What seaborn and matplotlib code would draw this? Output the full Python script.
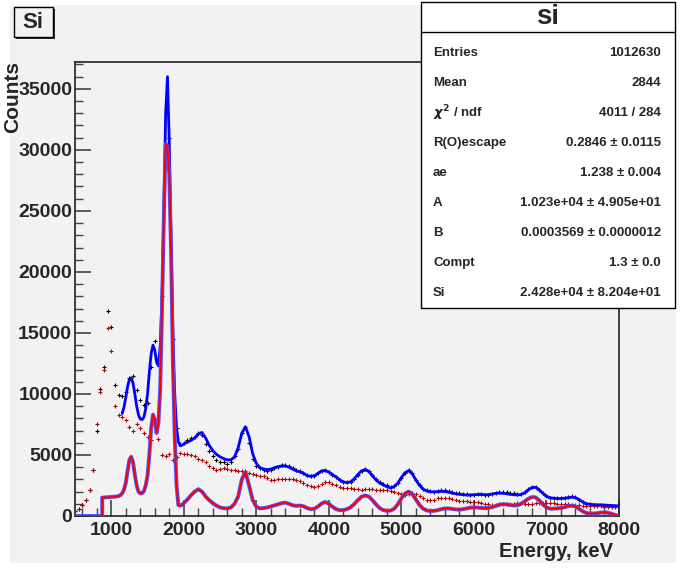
import numpy as np
import matplotlib
matplotlib.use("Agg")
import matplotlib.pyplot as plt
import seaborn as sns
from matplotlib.patches import Rectangle
from matplotlib.lines import Line2D

# energy grids, keV
pts_e = np.arange(500, 8001, 50)
blue_e = np.r_[np.arange(1150, 2000, 25), np.arange(2000, 8001, 50)]
comp_e = np.r_[500, 875, np.arange(875, 2000, 25), np.arange(2000, 8001, 50)]

# black data points (full spectrum)
black_pts = [400, 600, 900, 1300, 2100, 3800, 7000, 10400, 12200, 16800,
             15500, 10700, 9900, 9800, 10200, 11300, 11500, 10300, 9500, 9100,
             9300, 12200, 14300, 12900, 18000, 33000, 31000, 14500, 7200, 5900,
             6000, 6200, 6400, 6500, 6800, 6600, 5900, 5300, 4900, 4600,
             4450, 4400, 4300, 4400, 4900, 5500, 6800, 7300, 6000, 4700,
             4100, 3900, 3800, 3700, 3800, 3950, 4050, 4150, 4150, 4100,
             3900, 3800, 3700, 3550, 3350, 3250, 3300, 3500, 3700, 3750,
             3600, 3400, 3200, 2950, 2800, 2750, 2800, 3050, 3400, 3700,
             3850, 3700, 3350, 3000, 2750, 2600, 2500, 2400, 2450, 2700,
             3100, 3550, 3750, 3500, 2950, 2500, 2200, 2100, 2050, 2000,
             2050, 2100, 2100, 2050, 1950, 1900, 1850, 1800, 1800, 1750,
             1750, 1800, 1800, 1750, 1750, 1800, 1850, 1950, 2000, 1950,
             1900, 1850, 1800, 1800, 1950, 2200, 2400, 2400, 2150, 1850,
             1600, 1500, 1450, 1450, 1450, 1500, 1550, 1600, 1550, 1350,
             1150, 1000, 950, 900, 880, 870, 850, 850, 820, 800,
             780]

# red data points
red_pts = [400, 600, 900, 1300, 2100, 3800, 7500, 10200, 12000, 15400,
           13500, 9000, 8300, 8150, 7900, 7300, 7000, 7500, 7200, 6800,
           6500, 6200, 7400, 6300, 5000, 4900, 5100, 4600, 4800, 5200,
           5100, 5050, 5000, 4900, 4700, 4600, 4400, 4100, 3900, 3800,
           3850, 3900, 3850, 3800, 3800, 3700, 3650, 3650, 3550, 3450,
           3400, 3300, 3300, 3150, 2950, 2950, 3000, 3050, 3050, 3050,
           3000, 2950, 2850, 2700, 2550, 2450, 2400, 2450, 2650, 2800,
           2800, 2650, 2500, 2400, 2300, 2300, 2300, 2250, 2200, 2150,
           2200, 2250, 2200, 2150, 2150, 2100, 2100, 2050, 2000, 1900,
           1800, 1750, 1800, 1900, 1800, 1600, 1450, 1350, 1300, 1350,
           1450, 1500, 1500, 1500, 1400, 1300, 1250, 1200, 1200, 1150,
           1150, 1150, 1100, 1000, 950, 900, 900, 950, 1000, 1000,
           1000, 1000, 1050, 1050, 1000, 980, 1000, 1050, 1080, 1080,
           1060, 1050, 1040, 1020, 1000, 980, 960, 930, 900, 870,
           850, 830, 810, 800, 790, 780, 760, 740, 720, 710,
           700]

# total fit (blue)
blue_fit = [8400, 8900, 9700, 10600, 11200, 11300, 10900, 10000, 9000, 8300,
            7950, 7900, 8100, 8800, 10000, 11800, 13300, 14000, 13600, 12600,
            12300, 14000, 18000, 25000, 33000, 36000, 30500, 22500, 15000, 10000,
            7200, 6100, 5750, 5800,
            5900, 6050, 6200, 6400, 6700, 6850, 6400, 5800, 5350, 5050,
            4850, 4700, 4600, 4600, 4850, 5600, 6800, 7300, 6500, 5100,
            4300, 3950, 3850, 3800, 3850, 3950, 4050, 4100, 4100, 4000,
            3850, 3700, 3620, 3500, 3300, 3250, 3300, 3500, 3700, 3720,
            3600, 3400, 3200, 2950, 2800, 2730, 2800, 3050, 3400, 3700,
            3800, 3650, 3300, 2950, 2700, 2550, 2400, 2300, 2400, 2700,
            3150, 3550, 3720, 3450, 2950, 2500, 2200, 2050, 1980, 1980,
            2000, 2020, 2000, 1950, 1880, 1820, 1780, 1750, 1720, 1720,
            1740, 1760, 1760, 1740, 1750, 1800, 1860, 1880, 1860, 1820,
            1780, 1740, 1720, 1760, 1900, 2150, 2330, 2350, 2150, 1850,
            1620, 1500, 1450, 1430, 1430, 1460, 1500, 1540, 1500, 1350,
            1150, 1000, 960, 930, 920, 910, 900, 880, 860, 840,
            820]

# Si component (red histogram + its fit)
comp = [0, 0,
        1500, 1520, 1530, 1540, 1550, 1560, 1570, 1580, 1600, 1630,
        1700, 1850, 2150, 2700, 3700, 4600, 4850, 4400, 3400, 2500,
        2000, 1850, 1870, 2050, 2500, 3300, 5000, 7200, 8300, 7900,
        6800, 7600, 10500, 17000, 24500, 30500, 30300, 28000, 21500, 12500,
        6500, 2500, 900, 850, 900,
        1050, 1350, 1700, 2000, 2200, 2000, 1600, 1300, 1050, 850,
        700, 640, 620, 700, 1000, 1600, 3000, 3600, 2500, 1300,
        750, 620, 650, 700, 780, 870, 960, 1050, 1100, 1000,
        880, 830, 850, 800, 650, 560, 600, 780, 1020, 1150,
        1000, 760, 560, 480, 480, 560, 720, 980, 1300, 1580,
        1680, 1600, 1300, 950, 650, 480, 420, 440, 600, 950,
        1450, 1850, 2000, 1800, 1350, 900, 600, 450, 400, 420,
        480, 560, 620, 620, 580, 540, 530, 560, 620, 680,
        700, 690, 660, 640, 660, 720, 820, 920, 970, 950,
        900, 860, 880, 1000, 1200, 1420, 1550, 1530, 1280, 950,
        700, 600, 600, 620, 660, 720, 800, 850, 780, 580,
        380, 250, 200, 200, 230, 280, 300, 260, 180, 80,
        20]

stat_names = ["Entries", "Mean", r"$\chi^{2}$ / ndf", "R(O)escape", "ae", "A", "B", "Compt", "Si"]
stat_values = ["1012630", "2844", "4011 / 284", "0.2846 \u00b1 0.0115", "1.238 \u00b1 0.004",
               "1.023e+04 \u00b1 4.905e+01", "0.0003569 \u00b1 0.0000012", "1.3 \u00b1 0.0",
               "2.428e+04 \u00b1 8.204e+01"]

sns.set_style("ticks")
plt.rcParams['font.family'] = ['Liberation Sans', 'DejaVu Sans']
plt.rcParams['font.weight'] = 'bold'

W, H = 684, 569
def fx(px):
    return px / W
def fy(py):
    return 1 - py / H

bg = '#f2f2f2'
fig = plt.figure(figsize=(6.84, 5.69), dpi=100, facecolor='white')
fig.patches.append(Rectangle((fx(10), fy(563)), fx(676) - fx(10), fy(5) - fy(563),
                             transform=fig.transFigure, facecolor=bg, edgecolor='none', zorder=-10))

ax = fig.add_axes([fx(75), fy(516), fx(619) - fx(75), fy(62) - fy(516)])
ax.set_facecolor('none')

# data points as small crosses
sns.scatterplot(x=pts_e, y=black_pts, marker='+', color='black', s=9, linewidth=0.8, ax=ax, zorder=3)
sns.scatterplot(x=pts_e, y=red_pts, marker='+', color='#b00000', s=9, linewidth=0.8, ax=ax, zorder=3)
# fits
sns.lineplot(x=blue_e, y=blue_fit, color='blue', lw=2.0, estimator=None, sort=False, ax=ax, zorder=4)
sns.lineplot(x=comp_e, y=comp, color='#5050ff', lw=2.8, estimator=None, sort=False, ax=ax, zorder=5)
sns.lineplot(x=comp_e, y=comp, color='red', lw=1.4, estimator=None, sort=False, ax=ax, zorder=6)

ax.set_xlim(500, 8000)
ax.set_ylim(0, 37200)
ax.set_xticks(range(1000, 8001, 1000))
ax.set_xticks(np.arange(600, 8001, 200), minor=True)
ax.set_yticks(range(0, 35001, 5000))
ax.set_yticks(range(0, 37001, 1000), minor=True)
ax.set_xlabel('')
ax.set_ylabel('')
ax.tick_params(which='major', direction='in', length=11.5, width=1.2, color='#444444', labelsize=14)
ax.tick_params(which='minor', direction='in', length=5.5, width=1.0, color='#444444')
ax.tick_params(axis='x', which='major', pad=4)
ax.tick_params(axis='y', which='major', pad=2)
for sp in ax.spines.values():
    sp.set_linewidth(1.2)
    sp.set_color('#222222')

fig.text(fx(13), fy(61), 'Counts', rotation=90, ha='center', va='top', fontsize=15, weight='bold')
fig.text(fx(613), fy(557), 'Energy, keV', ha='right', va='baseline', fontsize=14.5, weight='bold')

# title box with shadow
fig.patches.append(Rectangle((fx(16), fy(38.7)), fx(38.7), fy(0) - fy(29.4),
                             transform=fig.transFigure, facecolor='#333333', edgecolor='none', zorder=1))
fig.patches.append(Rectangle((fx(14), fy(36.7)), fx(38.7), fy(0) - fy(29.4),
                             transform=fig.transFigure, facecolor=bg, edgecolor='black', lw=1, zorder=2))
fig.text(fx(33), fy(23), 'Si', ha='center', va='center', fontsize=16, weight='bold', zorder=3)

# stats box
fig.patches.append(Rectangle((fx(421), fy(308)), fx(675) - fx(421), fy(2) - fy(308),
                             transform=fig.transFigure, facecolor='white', edgecolor='black', lw=1, zorder=7))
fig.add_artist(Line2D([fx(421), fx(675)], [fy(32), fy(32)], transform=fig.transFigure,
                      color='black', lw=1, zorder=8))
fig.text(fx(548), fy(17), 'si', ha='center', va='center', fontsize=20, weight='bold', zorder=9)
row_y = [52.5, 82.5, 112.7, 142.7, 172.7, 203, 233.3, 263.3, 293.5]
for name, val, yy in zip(stat_names, stat_values, row_y):
    fig.text(fx(433), fy(yy), name, ha='left', va='center', fontsize=9.5, weight='bold', zorder=9)
    fig.text(fx(661), fy(yy), val, ha='right', va='center', fontsize=9.5, weight='bold', zorder=9)

fig.savefig('out.png', dpi=100, facecolor=fig.get_facecolor())
